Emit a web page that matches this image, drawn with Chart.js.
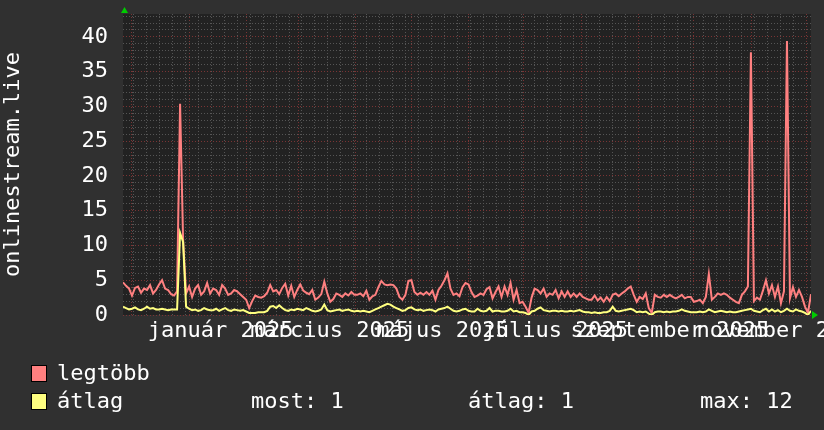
<!DOCTYPE html>
<html>
<head>
<meta charset="utf-8">
<script src="https://cdn.jsdelivr.net/npm/chart.js@4.4.1/dist/chart.umd.min.js"></script>
<style>
  body { margin: 0; background: #303030; }
  #wrap { position: relative; width: 824px; height: 430px; background: #303030; }
  #chart { position: absolute; left: 0; top: 0; }
  .leg { position: absolute; font: 22px "DejaVu Sans Mono", monospace; color: #fff; line-height: 24px; white-space: pre; }
  .box { position: absolute; width: 14px; height: 15px; border: 1px solid #000; }
</style>
</head>
<body>
<div id="wrap">
  <canvas id="chart" width="824" height="430"></canvas>
  <div class="box" style="left:31px;top:365px;background:#ff8080"></div>
  <div class="leg" style="left:57px;top:361px">legtöbb</div>
  <div class="box" style="left:31px;top:393px;background:#ffff80"></div>
  <div class="leg" style="left:57px;top:389px">átlag</div>
  <div class="leg" id="most" style="left:251px;top:389px"></div>
  <div class="leg" id="atl" style="left:468px;top:389px"></div>
  <div class="leg" id="max" style="left:700px;top:389px"></div>
</div>
<script>
// ertekek a kepbol leolvasva
const legtobb = [
  4.7, 4.2, 3.8, 2.8, 3.9, 4.1, 3.2, 3.8, 3.6, 4.3, 3.1, 3.6, 4.4, 5.0, 3.8, 3.6, 3.0, 2.8, 3.4,
  30.4, 10.8,
  3.1, 4.1, 2.6, 3.8, 4.3, 2.9, 3.4, 4.6, 3.1, 3.8, 3.6, 2.9, 4.3, 3.8, 2.9, 3.1, 3.6, 3.4,
  3.0, 2.6, 2.2, 1.0, 2.0, 2.8, 2.6, 2.5, 2.7, 3.2, 4.3, 3.4, 3.6, 3.0, 3.9, 4.5, 2.8, 4.2, 2.6,
  3.6, 4.4, 3.5, 3.2, 3.0, 3.6, 2.2, 2.5, 3.0, 4.8, 3.1, 1.9, 2.3, 3.1, 2.9, 2.6, 3.1, 2.8, 3.3,
  2.9, 2.9, 3.1, 2.7, 3.5, 2.2, 2.7, 2.9, 4.0, 4.9, 4.4, 4.3, 4.4, 4.3, 3.8, 2.6, 2.2, 2.9, 4.9,
  5.0, 3.3, 2.9, 3.2, 2.9, 3.3, 2.9, 3.5, 2.2, 3.6, 4.2, 5.0, 6.0, 3.8, 2.9, 3.1, 2.7, 4.0, 4.6,
  4.4, 3.3, 2.6, 2.8, 3.1, 2.9, 3.7, 4.0, 2.4, 3.3, 4.1, 2.6, 4.1, 2.9, 4.6, 2.2, 3.6, 1.7, 1.9,
  1.2, 0.3, 2.5, 3.8, 3.6, 3.1, 3.8, 2.6, 3.1, 2.9, 3.6, 2.4, 3.4, 2.6, 3.4, 2.6, 3.1, 2.6, 3.1,
  2.6, 2.4, 2.2, 2.2, 2.8, 2.1, 2.5, 1.9, 2.6, 2.0, 2.9, 3.1, 2.7, 3.1, 3.4, 3.8, 4.1, 2.9, 1.9,
  2.6, 2.3, 3.1, 1.0, 0.3, 2.9, 2.6, 2.5, 2.9, 2.6, 2.9, 2.6, 2.4, 2.6, 2.9, 2.4, 2.6, 2.6, 1.9,
  2.0, 2.2, 1.7, 2.6, 5.9, 2.2, 2.6, 3.1, 2.9, 3.1, 2.9, 2.5, 2.2, 1.9, 1.7, 2.9, 3.4, 4.1, 37.8,
  2.0, 2.5, 2.2, 3.5, 5.0, 3.1, 4.3, 2.6, 4.1, 1.7, 3.4, 39.4, 2.4, 4.0, 2.6, 3.6, 2.6, 1.2, 0.3, 3.0
];
const atlag = [
  1.2, 1.0, 0.8, 0.9, 1.1, 0.8, 0.7, 0.9, 1.2, 0.9, 1.0, 0.8, 0.8, 0.9, 0.8, 0.7, 0.8, 0.8, 0.8,
  11.8, 10.5,
  1.2, 0.9, 0.7, 0.8, 0.6, 0.7, 1.0, 0.8, 0.7, 0.7, 0.9, 0.6, 0.8, 1.0, 0.7, 0.6, 0.8, 0.7,
  0.6, 0.7, 0.5, 0.3, 0.3, 0.3, 0.4, 0.4, 0.4, 0.6, 1.2, 1.3, 1.0, 1.4, 1.0, 0.7, 0.6, 0.8, 0.7,
  0.9, 0.8, 0.7, 1.0, 0.8, 0.6, 0.5, 0.6, 0.8, 1.5, 0.7, 0.5, 0.6, 0.7, 0.8, 0.6, 0.7, 0.8, 0.6,
  0.5, 0.6, 0.5, 0.6, 0.5, 0.4, 0.6, 0.8, 1.0, 1.2, 1.4, 1.6, 1.5, 1.2, 1.0, 0.8, 0.6, 0.7, 1.0,
  1.1, 0.8, 0.7, 0.8, 0.6, 0.7, 0.8, 0.7, 0.5, 0.8, 0.9, 1.0, 1.2, 0.9, 0.6, 0.5, 0.6, 0.8, 0.9,
  0.6, 0.5, 0.5, 0.9, 0.6, 0.5, 0.6, 1.0, 0.5, 0.6, 0.6, 0.5, 0.5, 0.6, 0.9, 0.5, 0.6, 0.4, 0.4,
  0.3, 0.0, 0.5, 0.6, 0.9, 1.1, 0.7, 0.6, 0.5, 0.6, 0.6, 0.5, 0.6, 0.5, 0.5, 0.6, 0.5, 0.6, 0.7,
  0.5, 0.4, 0.4, 0.3, 0.4, 0.3, 0.3, 0.4, 0.4, 0.6, 1.2, 0.6, 0.5, 0.6, 0.7, 0.8, 0.9, 0.7, 0.4,
  0.5, 0.4, 0.5, 0.2, 0.0, 0.4, 0.5, 0.5, 0.4, 0.5, 0.4, 0.5, 0.5, 0.6, 0.8, 0.6, 0.5, 0.4, 0.4,
  0.4, 0.5, 0.4, 0.5, 0.8, 0.6, 0.4, 0.5, 0.6, 0.5, 0.4, 0.5, 0.4, 0.4, 0.5, 0.6, 0.7, 0.8, 0.9,
  0.6, 0.5, 0.4, 0.7, 0.9, 0.5, 0.8, 0.5, 0.7, 0.4, 0.6, 0.9, 0.6, 0.5, 0.8, 0.6, 0.5, 0.3, 0.0, 0.6
];

// ido: napok 2025-01-01-tol szamolva
const firstDay = -35.8;   // 2024. nov. 26.
const stepDays = 1.625;
const honapKezdet = [-31, 0, 31, 59, 90, 120, 151, 181, 212, 243, 273, 304, 334];
const honapNevek = ['január 2025', 'március 2025', 'május 2025', 'július 2025', 'szeptember 2025', 'november 2025'];
const honapNapok = [0, 59, 120, 181, 243, 304];
const cimkeEltolas = 17;  // rrdtool a cimket a honap kozepe fele tolja
const hetKezdet = -30;    // 2024. dec. 2., hetfo
const yFo = [0, 5, 10, 15, 20, 25, 30, 35, 40];
const yMax = 43.3;

const FONT = { family: 'DejaVu Sans Mono', size: 22 };
const MINOR = '#555555';
const MAJOR = '#7a3434';

const xMin = firstDay;
const xMax = firstDay + (legtobb.length - 1) * stepDays;
const pontok = arr => arr.map((v, i) => ({ x: firstDay + i * stepDays, y: v }));

// x racs: hetek + honapok + cimkek
const cimkek = {};
honapNapok.forEach((d, i) => { cimkek[d + cimkeEltolas] = honapNevek[i]; });
const xTicks = [];
for (let d = hetKezdet; d <= xMax; d += 7) if (!honapKezdet.includes(d)) xTicks.push(d);
honapKezdet.forEach(d => { if (d >= xMin && d <= xMax) xTicks.push(d); });
Object.keys(cimkek).forEach(d => xTicks.push(Number(d)));
xTicks.sort((a, b) => a - b);

const yTicks = [];
for (let v = 0; v <= yMax; v++) yTicks.push(v);

const hatter = {
  id: 'hatter',
  beforeDraw(chart) {
    const { ctx, chartArea: a } = chart;
    ctx.save();
    ctx.fillStyle = '#303030';
    ctx.fillRect(0, 0, chart.width, chart.height);
    ctx.fillStyle = '#222222';
    ctx.fillRect(a.left, a.top, a.right - a.left, a.bottom - a.top);
    ctx.restore();
  }
};

// zold nyilak a tengelyek vegen
const nyilak = {
  id: 'nyilak',
  afterDraw(chart) {
    const { ctx, chartArea: a } = chart;
    ctx.save();
    ctx.fillStyle = '#00cc00';
    ctx.beginPath();
    ctx.moveTo(a.left - 2, a.top - 1);
    ctx.lineTo(a.left + 5, a.top - 1);
    ctx.lineTo(a.left + 1.5, a.top - 7);
    ctx.closePath();
    ctx.fill();
    ctx.beginPath();
    ctx.moveTo(a.right + 1, a.bottom - 4);
    ctx.lineTo(a.right + 1, a.bottom + 4);
    ctx.lineTo(a.right + 7, a.bottom);
    ctx.closePath();
    ctx.fill();
    ctx.restore();
  }
};

new Chart(document.getElementById('chart'), {
  type: 'line',
  data: {
    datasets: [
      { label: 'átlag', data: pontok(atlag), borderColor: '#ffff80', borderWidth: 2, pointRadius: 0, tension: 0, order: 0 },
      { label: 'legtöbb', data: pontok(legtobb), borderColor: '#ff8080', borderWidth: 2, pointRadius: 0, tension: 0, order: 1 }
    ]
  },
  options: {
    responsive: false,
    devicePixelRatio: 1,
    animation: false,
    layout: { padding: { left: 0, top: 14, right: 13, bottom: 0 } },
    plugins: { legend: { display: false }, tooltip: { enabled: false } },
    scales: {
      x: {
        type: 'linear',
        min: xMin,
        max: xMax,
        afterBuildTicks: s => { s.ticks = xTicks.map(v => ({ value: v })); },
        afterFit: s => { s.height = 115; s.paddingLeft = 0; s.paddingRight = 0; },
        grid: {
          drawTicks: false,
          color: c => {
            const v = c.tick ? c.tick.value : null;
            if (cimkek[v] !== undefined) return 'rgba(0,0,0,0)';
            return honapKezdet.includes(v) ? MAJOR : MINOR;
          }
        },
        border: { display: false, dash: [1, 2] },
        ticks: {
          autoSkip: false, maxRotation: 0, minRotation: 0, padding: 3,
          color: '#ffffff', font: FONT,
          callback: v => cimkek[v] || ''
        }
      },
      y: {
        min: 0,
        max: yMax,
        afterBuildTicks: s => { s.ticks = yTicks.map(v => ({ value: v })); },
        afterFit: s => { s.width = 123; s.paddingTop = 0; s.paddingBottom = 0; },
        grid: {
          drawTicks: false,
          color: c => (c.tick && c.tick.value % 5 === 0) ? MAJOR : MINOR
        },
        border: { display: false, dash: [1, 2] },
        ticks: {
          autoSkip: false, padding: 15, color: '#ffffff', font: FONT,
          callback: v => yFo.includes(v) ? String(v) : ''
        },
        title: { display: true, text: 'onlinestream.live', color: '#ffffff', font: FONT, padding: 0 }
      }
    }
  },
  plugins: [hatter, nyilak]
});

// also sor ertekei
const utolso = atlag[atlag.length - 1];
const atl = atlag.reduce((a, b) => a + b, 0) / atlag.length;
const max = Math.max(...atlag);
document.getElementById('most').textContent = 'most: ' + Math.round(utolso);
document.getElementById('atl').textContent = 'átlag: ' + Math.round(atl);
document.getElementById('max').textContent = 'max: ' + Math.round(max);
</script>
</body>
</html>
